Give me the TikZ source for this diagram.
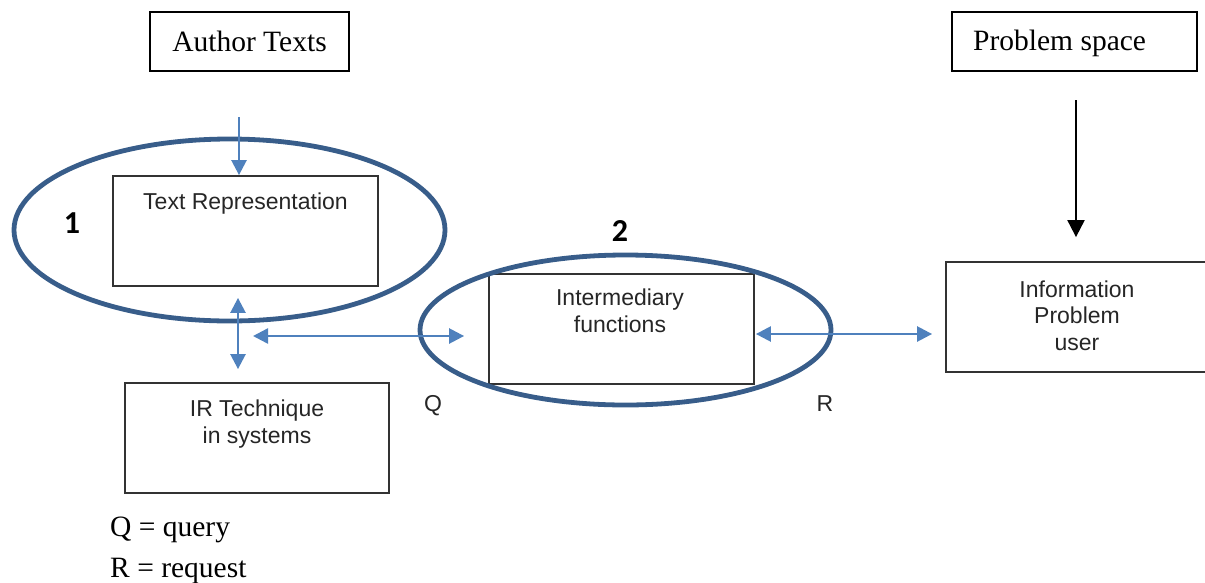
\documentclass[tikz,border=0pt]{standalone}
\usepackage{fontspec}
\setmainfont{Liberation Serif}
\setsansfont{Liberation Sans}
\newfontfamily\calib{Carlito}
\usetikzlibrary{arrows.meta,shapes.geometric}
\definecolor{arrblue}{HTML}{4F81BD}
\definecolor{ellblue}{HTML}{385D8A}
\begin{document}
\begin{tikzpicture}[x=1pt,y=-1pt,
  serifbox/.style={draw=black,line width=1.4pt,inner sep=0pt},
  sansbox/.style={draw=black!80,line width=1.8pt,inner sep=0pt,minimum width=265pt,minimum height=110pt},
  serif/.style={font=\fontsize{29.5}{34}\selectfont\rmfamily,inner sep=0pt},
  sans/.style={font=\fontsize{23}{26.5}\selectfont\sffamily,text=black!85,inner sep=0pt,align=center},
  digit/.style={font=\fontsize{32}{36}\selectfont\calib\bfseries,inner sep=0pt},
  ring/.style={ellipse,draw=ellblue,line width=4.8pt,inner sep=0pt},
  biarrow/.style={draw=arrblue,line width=2.5pt,{Triangle[length=15pt,width=15pt]}-{Triangle[length=15pt,width=15pt]}},
  onearrow/.style={draw=arrblue,line width=2.5pt,-{Triangle[length=15pt,width=15pt]}},
  blackarrow/.style={draw=black,line width=2pt,-{Triangle[length=17pt,width=17pt]}}]
\useasboundingbox (0,0) rectangle (1205,582);
% top boxes
\node[serifbox,minimum width=199pt,minimum height=59pt] (at) at (249.5,41.5) {};
\node[serif,anchor=base] (att) at (249.5,51) {Author Texts};
\node[serifbox,minimum width=245pt,minimum height=59pt] (ps) at (1074.5,41.5) {};
\node[serif,anchor=base west] (pst) at (973,50) {Problem space};
% main boxes
\node[sansbox] (tr) at (245.5,231) {};
\node[sans,anchor=base] (trt) at (245.5,209) {Text Representation};
\node[sansbox,minimum width=264pt] (ir) at (257,438) {};
\node[sans,anchor=base] (irt) at (257,443) {IR Technique\\in systems};
\node[sansbox] (im) at (621.5,329) {};
\node[sans,anchor=base] (imt) at (620,332) {Intermediary\\functions};
\node[sansbox,minimum width=264pt] (info) at (1078,317) {};
\node[sans,anchor=base] (infot) at (1077,350) {Information\\Problem\\user};
% ellipses
\node[ring,minimum width=431pt,minimum height=182pt] (e1) at (229.5,230) {};
\node[ring,minimum width=411pt,minimum height=150pt] (e2) at (625.5,330) {};
% numbers
\node[digit,anchor=base] (n1) at (72,233) {1};
\node[digit,anchor=base] (n2) at (620,241) {2};
% arrows
\coordinate (atop) at (239,117);
\draw[onearrow] (atop) -- (atop |- tr.north);
\draw[biarrow,shorten <=11pt,shorten >=13pt] ([xshift=-7.5pt]tr.south) -- ([xshift=-7.5pt]tr.south |- ir.north);
\coordinate (qa) at (253,336);
\draw[biarrow,shorten >=24pt] (qa) -- (qa -| im.west);
\draw[biarrow,shorten <=1pt,shorten >=13pt] ([yshift=-5pt]im.east) -- ([yshift=-5pt]im.east -| info.west);
\coordinate (pa) at (1076,100);
\draw[blackarrow,shorten >=24pt] (pa) -- (pa |- info.north);
% Q R labels
\node[sans,anchor=base] (q) at (433,411) {Q};
\node[sans,anchor=base] (r) at (825,411) {R};
% legend
\node[serif,anchor=base west] (lq) at (110,536) {Q = query};
\node[serif,anchor=base west] (lr) at (110,577) {R = request};
\end{tikzpicture}
\end{document}
